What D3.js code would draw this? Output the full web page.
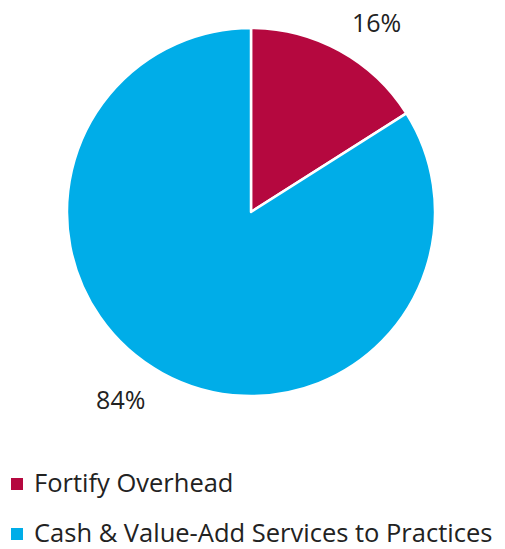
<!DOCTYPE html>
<html>
<head>
<meta charset="utf-8">
<script src="https://cdn.jsdelivr.net/npm/d3@7"></script>
<style>
  body { margin: 0; background: #fff; }
  text { font-family: "Open Sans", "Noto Sans", sans-serif; fill: #222; }
</style>
</head>
<body>
<svg id="chart" width="505" height="549"></svg>
<script>
// Chart data
const categories = ["Fortify Overhead", "Cash & Value-Add Services to Practices"];
const values = [16, 84];
const labels = ["16%", "84%"];
const colors = ["#B5083F", "#00ADE8"];

const svg = d3.select("#chart");
const cx = 251, cy = 212, radius = 184;

const pie = d3.pie().sort(null).value(d => d);
const arc = d3.arc().innerRadius(0).outerRadius(radius);
const arcs = pie(values);

const g = svg.append("g").attr("transform", `translate(${cx}, ${cy})`);

g.selectAll("path")
  .data(arcs)
  .enter()
  .append("path")
  .attr("d", arc)
  .attr("fill", (d, i) => colors[i])
  .attr("stroke", "#fff")
  .attr("stroke-width", 2.5)
  .attr("stroke-linejoin", "round");

// Outside labels, a bit past the rim
const labelPos = [0.58, 0.52]; // where along each slice the label sits
const labelR = radius + 44;
g.selectAll(".pct")
  .data(arcs)
  .enter()
  .append("text")
  .attr("class", "pct")
  .attr("text-anchor", "middle")
  .attr("font-size", 25)
  .attr("transform", (d, i) => {
    const a = d.startAngle + (d.endAngle - d.startAngle) * labelPos[i];
    return `translate(${Math.sin(a) * labelR}, ${-Math.cos(a) * labelR + 10})`;
  })
  .text((d, i) => labels[i]);

// Legend
const legend = svg.append("g").attr("transform", "translate(11, 478)");
const rowH = 50;
categories.forEach((c, i) => {
  const row = legend.append("g").attr("transform", `translate(0, ${i * rowH})`);
  row.append("rect")
    .attr("width", 12)
    .attr("height", 12)
    .attr("fill", colors[i]);
  row.append("text")
    .attr("x", 23)
    .attr("y", 14)
    .attr("font-size", 25.5)
    .text(c);
});
</script>
</body>
</html>
